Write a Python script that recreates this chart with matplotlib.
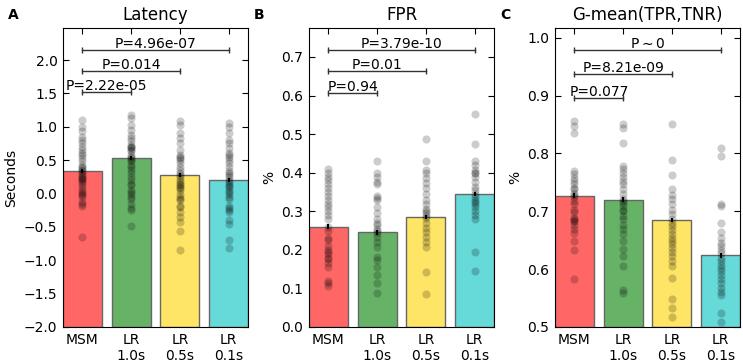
import numpy as np
import matplotlib.pyplot as plt

groups = ['MSM', 'LR\n1.0s', 'LR\n0.5s', 'LR\n0.1s']
colors = ['#ff6666', '#66b266', '#ffe566', '#66d9d9']

# bar heights (means) and small error bars
lat_mean = [0.33, 0.53, 0.28, 0.21]
fpr_mean = [0.260, 0.245, 0.285, 0.345]
gm_mean = [0.727, 0.720, 0.685, 0.624]
lat_err = [0.03, 0.03, 0.03, 0.03]
fpr_err = [0.006, 0.006, 0.006, 0.006]
gm_err = [0.004, 0.004, 0.004, 0.004]

# individual points per group
lat_msm = [1.10, 1.0, 0.93, 0.85, 0.80, 0.75, 0.70, 0.65, 0.60, 0.57, 0.53, 0.48, 0.43, 0.40,
           0.38, 0.35, 0.33, 0.30, 0.28, 0.25, 0.23, 0.22, 0.20, 0.18, 0.15, 0.10, 0.05, 0.03,
           0.0, -0.02, -0.05, -0.13, -0.16, -0.18, -0.65]
lat_lr10 = [1.18, 1.13, 1.03, 0.95, 0.88, 0.83, 0.78, 0.73, 0.70, 0.70, 0.68, 0.65, 0.63, 0.58,
            0.55, 0.53, 0.50, 0.48, 0.43, 0.40, 0.35, 0.30, 0.25, 0.20, 0.15, 0.13, 0.05, 0.02,
            0.0, -0.05, -0.08, -0.15, -0.22, -0.25, -0.48]
lat_lr05 = [1.08, 1.03, 0.90, 0.83, 0.75, 0.65, 0.58, 0.55, 0.53, 0.50, 0.45, 0.40, 0.35,
            0.30, 0.28, 0.25, 0.20, 0.18, 0.15, 0.13, 0.10, 0.08, 0.05, 0.0, -0.05, -0.08,
            -0.10, -0.18, -0.20, -0.28, -0.35, -0.43, -0.56, -0.85]
lat_lr01 = [1.05, 1.0, 0.90, 0.80, 0.75, 0.68, 0.60, 0.58, 0.55, 0.50, 0.45, 0.40, 0.33, 0.30,
            0.28, 0.25, 0.20, 0.18, 0.15, 0.12, 0.10, 0.05, 0.02, 0.0, -0.05, -0.08, -0.18,
            -0.22, -0.25, -0.28, -0.40, -0.45, -0.70, -0.82]

fpr_msm = [0.41, 0.40, 0.39, 0.38, 0.37, 0.36, 0.35, 0.34, 0.33, 0.32, 0.31, 0.30, 0.29, 0.28,
           0.26, 0.25, 0.23, 0.225, 0.21, 0.20, 0.195, 0.19, 0.18, 0.175, 0.165, 0.155, 0.12,
           0.115, 0.105]
fpr_lr10 = [0.43, 0.40, 0.39, 0.375, 0.37, 0.34, 0.335, 0.33, 0.31, 0.295, 0.28, 0.27, 0.265,
            0.255, 0.25, 0.243, 0.234, 0.22, 0.208, 0.182, 0.174, 0.156, 0.135, 0.113, 0.089]
fpr_lr05 = [0.487, 0.43, 0.407, 0.40, 0.385, 0.372, 0.36, 0.346, 0.33, 0.318, 0.307, 0.30,
            0.295, 0.288, 0.282, 0.27, 0.256, 0.247, 0.234, 0.221, 0.208, 0.142, 0.085]
fpr_lr01 = [0.552, 0.474, 0.43, 0.42, 0.407, 0.40, 0.398, 0.39, 0.377, 0.364, 0.355, 0.346,
            0.338, 0.33, 0.325, 0.32, 0.312, 0.30, 0.29, 0.281, 0.194, 0.145]

gm_msm = [0.857, 0.848, 0.836, 0.770, 0.764, 0.758, 0.753, 0.747, 0.741, 0.738, 0.732, 0.728,
          0.724, 0.718, 0.712, 0.703, 0.698, 0.689, 0.686, 0.683, 0.683, 0.677, 0.670, 0.663,
          0.648, 0.634, 0.583]
gm_lr10 = [0.851, 0.844, 0.819, 0.779, 0.773, 0.767, 0.759, 0.753, 0.747, 0.738, 0.730, 0.721,
           0.718, 0.715, 0.709, 0.703, 0.700, 0.692, 0.686, 0.677, 0.669, 0.660, 0.648, 0.635,
           0.622, 0.605, 0.564, 0.559]
gm_lr05 = [0.851, 0.789, 0.763, 0.738, 0.728, 0.721, 0.712, 0.703, 0.695, 0.686, 0.680, 0.674,
           0.668, 0.660, 0.654, 0.648, 0.643, 0.637, 0.629, 0.622, 0.614, 0.605, 0.585, 0.548,
           0.532, 0.518]
gm_lr01 = [0.809, 0.795, 0.713, 0.709, 0.680, 0.664, 0.654, 0.646, 0.640, 0.634, 0.628, 0.619,
           0.614, 0.608, 0.602, 0.596, 0.590, 0.583, 0.576, 0.568, 0.561, 0.556, 0.525, 0.508]

# significance brackets: (end group, y, text), all start at group 0
lat_sig = [(1, 1.52, 'P=2.22e-05'), (2, 1.835, 'P=0.014'), (3, 2.15, 'P=4.96e-07')]
fpr_sig = [(1, 0.607, 'P=0.94'), (2, 0.663, 'P=0.01'), (3, 0.718, 'P=3.79e-10')]
gm_sig = [(1, 0.896, 'P=0.077'), (2, 0.937, 'P=8.21e-09'), (3, 0.979, 'P$\\sim$0')]

panels = [
    ('A', 'Latency', 'Seconds', lat_mean, lat_err, [lat_msm, lat_lr10, lat_lr05, lat_lr01],
     lat_sig, (-2.0, 2.48), np.arange(-2.0, 2.01, 0.5), '%.1f'),
    ('B', 'FPR', '%', fpr_mean, fpr_err, [fpr_msm, fpr_lr10, fpr_lr05, fpr_lr01],
     fpr_sig, (0.0, 0.775), np.arange(0.0, 0.71, 0.1), '%.1f'),
    ('C', 'G-mean(TPR,TNR)', '%', gm_mean, gm_err, [gm_msm, gm_lr10, gm_lr05, gm_lr01],
     gm_sig, (0.5, 1.017), np.arange(0.5, 1.01, 0.1), '%.1f'),
]

fig = plt.figure(figsize=(7.43, 3.63), dpi=100)
lefts = [63, 309, 555]
for k, (letter, title, ylab, means, errs, pts, sig, ylim, yt, fmt) in enumerate(panels):
    ax = fig.add_axes([lefts[k] / 743, 1 - 327 / 363, 185 / 743, 299 / 363])
    x = np.arange(4)
    ax.bar(x, np.array(means) - ylim[0], bottom=ylim[0], width=0.8, color=colors,
           edgecolor='0.4', linewidth=1, yerr=errs, ecolor='k', zorder=2)
    for i, p in enumerate(pts):
        ax.scatter(np.full(len(p), i), p, s=34, color='k', alpha=0.2, linewidths=0, zorder=3)
    for end, yy, txt in sig:
        ax.plot([0, end], [yy, yy], color='0.2', lw=1, marker='|', ms=5, mew=1, zorder=4)
        ax.annotate(txt, (end / 2, yy), xytext=(0, 1.5), textcoords='offset points',
                    ha='center', va='baseline', fontsize=10)
    ax.set_xlim(-0.4, 3.4)
    ax.set_ylim(*ylim)
    ax.set_yticks(yt)
    ax.set_yticklabels([(fmt % v).replace('-', '\u2212') for v in yt])
    ax.set_xticks(x)
    ax.set_xticklabels(groups)
    ax.tick_params(direction='in', top=True, right=True, length=4, labelsize=10, pad=4)
    ax.set_title(title, fontsize=12, pad=6)
    ax.set_ylabel(ylab, fontsize=10)
    fig.text((lefts[k] - 50) / 743, 1 - 15 / 363, letter, fontsize=10, fontweight='bold',
             ha='center', va='center')

fig.savefig('out.png', dpi=100)
